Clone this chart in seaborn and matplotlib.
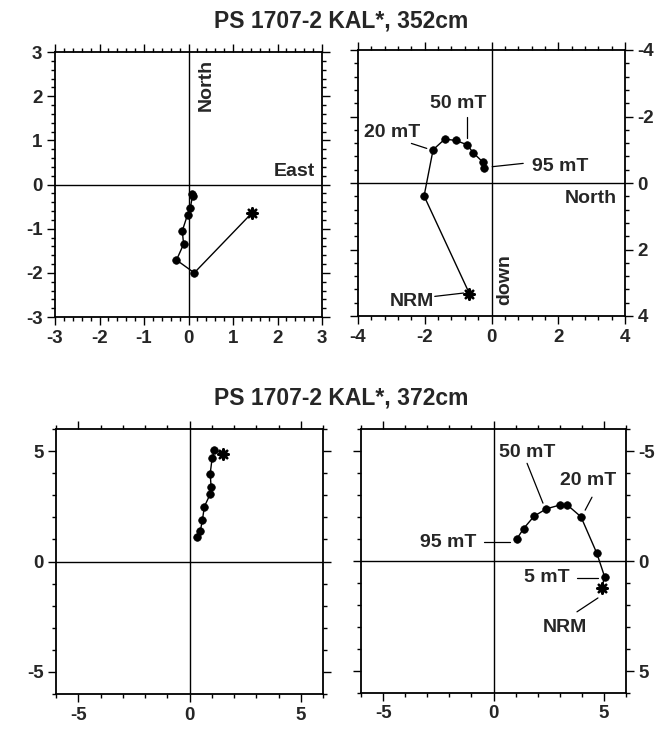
import numpy as np
import pandas as pd
import matplotlib
matplotlib.use("Agg")
import matplotlib.pyplot as plt
import seaborn as sns
from matplotlib.ticker import MultipleLocator

# ---- data: sample at 352 cm (NRM first, then AF steps) ----
s1_east = [1.42, 0.13, -0.27, -0.11, -0.14, -0.02, 0.04, 0.09, 0.08]
s1_north_h = [-0.65, -2.00, -1.71, -1.35, -1.05, -0.68, -0.53, -0.26, -0.22]
s1_north_v = [-0.66, -2.02, -1.75, -1.40, -1.07, -0.73, -0.54, -0.26, -0.23]
s1_down = [3.33, 0.39, -1.00, -1.32, -1.28, -1.15, -0.90, -0.63, -0.46]

# ---- data: sample at 372 cm ----
s2_east = [1.50, 1.12, 1.02, 0.93, 0.97, 0.93, 0.67, 0.58, 0.49, 0.33]
s2_north_h = [4.89, 5.03, 4.70, 3.98, 3.38, 3.05, 2.49, 1.88, 1.40, 1.10]
s2_north_v = [4.91, 5.03, 4.68, 3.96, 3.35, 2.99, 2.39, 1.84, 1.36, 1.06]
s2_down = [1.21, 0.71, -0.35, -2.01, -2.54, -2.54, -2.37, -2.04, -1.47, -1.01]

titles = ["PS 1707-2 KAL*, 352cm", "PS 1707-2 KAL*, 372cm"]

sns.set_style("white")
plt.rcParams["font.family"] = ["Liberation Sans", "DejaVu Sans"]
plt.rcParams["font.weight"] = "bold"
plt.rcParams["axes.unicode_minus"] = False

FS_TICK = 13.5
FS_LAB = 14
FS_TITLE = 16.5
fig = plt.figure(figsize=(6.71, 7.29), dpi=100)

W, H = 671, 729
def add_axes(x0, y0, x1, y1):
    return fig.add_axes([x0 / W, 1 - y1 / H, (x1 - x0) / W, (y1 - y0) / H])

ax_tl = add_axes(55, 52, 322, 317)
ax_tr = add_axes(358, 50, 625, 316)
ax_bl = add_axes(56, 429, 323, 694)
ax_br = add_axes(361, 429, 626, 693)


def zijder(ax, xs, ys):
    df = pd.DataFrame({"x": xs, "y": ys, "step": range(len(xs))})
    sns.lineplot(data=df, x="x", y="y", sort=False, estimator=None,
                 color="black", lw=1.0, ax=ax)
    sns.scatterplot(data=df.iloc[1:], x="x", y="y", color="black", s=30,
                    edgecolor="black", linewidth=0.5, ax=ax, zorder=5)
    sns.scatterplot(data=df.iloc[:1], x="x", y="y", color="black",
                    marker=(8, 2, 0), s=55, linewidth=1.8,
                    edgecolor="black", ax=ax, zorder=5)
    ax.axhline(0, color="black", lw=1.0, zorder=1)
    ax.axvline(0, color="black", lw=1.0, zorder=1)
    ax.set_xlabel("")
    ax.set_ylabel("")


def style(ax, lim, major, minor, invert=False, right=False):
    ax.set_xlim(-lim, lim)
    if invert:
        ax.set_ylim(lim, -lim)
    else:
        ax.set_ylim(-lim, lim)
    ax.xaxis.set_major_locator(MultipleLocator(major))
    ax.yaxis.set_major_locator(MultipleLocator(major))
    ax.xaxis.set_minor_locator(MultipleLocator(minor))
    ax.yaxis.set_minor_locator(MultipleLocator(minor))
    ax.tick_params(which="both", direction="out", top=True, bottom=True,
                   left=True, right=True, width=1.0, color="black")
    ax.tick_params(which="major", length=6, labelsize=FS_TICK, pad=3)
    ax.tick_params(which="minor", length=3)
    ax.tick_params(axis="y", labelleft=not right, labelright=right)
    for lab in ax.get_xticklabels() + ax.get_yticklabels():
        lab.set_fontweight("bold")
    for sp in ax.spines.values():
        sp.set_linewidth(1.3)
        sp.set_color("black")


zijder(ax_tl, s1_east, s1_north_h)
style(ax_tl, 3, 1, 0.2)
zijder(ax_tr, s1_north_v, s1_down)
style(ax_tr, 4, 2, 0.4, invert=True, right=True)
zijder(ax_bl, s2_east, s2_north_h)
style(ax_bl, 6, 5, 1)
zijder(ax_br, s2_north_v, s2_down)
style(ax_br, 6, 5, 1, invert=True, right=True)

tkw = dict(fontsize=FS_LAB, fontweight="bold")
# axis names
ax_tl.text(0.2, 2.85, "North", rotation=90, ha="left", va="top", **tkw)
ax_tl.text(2.85, 0.1, "East", ha="right", va="bottom", **tkw)
ax_tr.text(3.75, 0.22, "North", ha="right", va="top", **tkw)
ax_tr.text(0.14, 2.9, "down", rotation=90, ha="left", va="center", **tkw)


def label(ax, text, tx, ty, p0, p1):
    ax.text(tx, ty, text, ha="center", va="center", **tkw)
    ax.plot([p0[0], p1[0]], [p0[1], p1[1]], color="black", lw=0.9)


label(ax_tr, "50 mT", -1.0, -2.4, (-0.74, -1.98), (-0.74, -1.34))
label(ax_tr, "20 mT", -2.98, -1.53, (-2.40, -1.19), (-1.94, -1.04))
label(ax_tr, "95 mT", 2.05, -0.51, (0.02, -0.49), (0.95, -0.59))
label(ax_tr, "NRM", -2.38, 3.57, (-1.70, 3.41), (-0.84, 3.31))

label(ax_br, "50 mT", 1.52, -4.94, (1.52, -4.44), (2.24, -2.63))
label(ax_br, "20 mT", 4.28, -3.67, (4.46, -2.9), (4.15, -2.31))
label(ax_br, "95 mT", -2.06, -0.82, (-0.45, -0.86), (0.75, -0.86))
label(ax_br, "5 mT", 2.42, 0.77, (3.80, 0.77), (4.73, 0.77))
label(ax_br, "NRM", 3.24, 3.04, (3.78, 2.31), (4.73, 1.68))

fig.text(341 / W, 1 - 21 / H, titles[0], ha="center", va="center",
         fontsize=FS_TITLE, fontweight="bold")
fig.text(341 / W, 1 - 398 / H, titles[1], ha="center", va="center",
         fontsize=FS_TITLE, fontweight="bold")

fig.savefig("out.png", dpi=100, facecolor="white")
